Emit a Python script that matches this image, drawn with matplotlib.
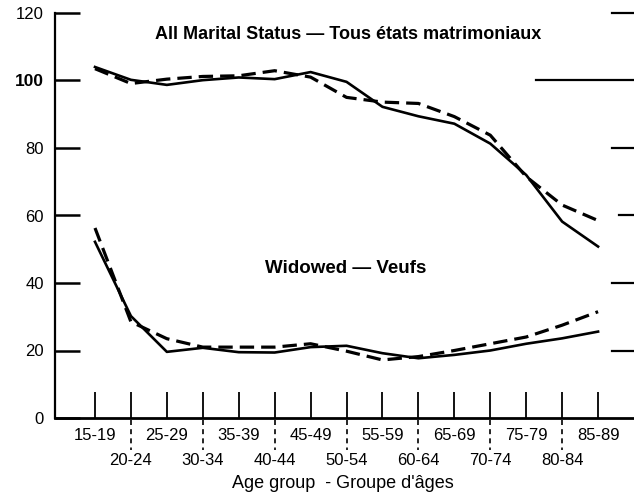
import numpy as np
import matplotlib
matplotlib.use('Agg')
import matplotlib.pyplot as plt

plt.rcParams['font.family'] = ['Liberation Sans', 'DejaVu Sans']

age_groups = ['15-19', '20-24', '25-29', '30-34', '35-39', '40-44', '45-49', '50-54',
              '55-59', '60-64', '65-69', '70-74', '75-79', '80-84', '85-89']

# All marital status (solid / dashed)
all_solid = [104, 100.2, 98.7, 100.1, 100.9, 100.4, 102.5, 99.6, 92.2, 89.4, 87.2, 81.3, 72.0, 58.2, 50.8]
all_dashed = [103.5, 99.1, 100.4, 101.2, 101.4, 102.9, 101.0, 95.0, 93.6, 93.2, 89.3, 83.8, 71.5, 63.1, 58.5]

# Widowed (solid / dashed)
wid_solid = [52.2, 30.2, 19.6, 20.8, 19.5, 19.4, 21.0, 21.4, 19.2, 17.7, 18.7, 20.0, 22.0, 23.6, 25.6]
wid_dashed = [56.3, 28.5, 23.5, 21.0, 21.0, 21.0, 22.0, 19.8, 17.2, 18.2, 20.0, 22.0, 24.0, 27.5, 31.5]

yticks = [0, 20, 40, 60, 80, 100, 120]

x = np.arange(len(age_groups))

fig = plt.figure(figsize=(6.34, 4.94), dpi=100)
ax = fig.add_axes([55 / 634, 76 / 494, 579 / 634, 405 / 494])

ax.plot(x, all_solid, color='black', lw=1.9, solid_joinstyle='round')
ax.plot(x, all_dashed, color='black', lw=2.3, dashes=(4.5, 2.2))
ax.plot(x, wid_solid, color='black', lw=1.9, solid_joinstyle='round')
ax.plot(x, wid_dashed, color='black', lw=2.3, dashes=(4.5, 2.2))

ax.set_xlim(-1.113, 15.0)
ax.set_ylim(0, 120)

for s in ['top', 'right']:
    ax.spines[s].set_visible(False)
ax.spines['left'].set_linewidth(1.6)
ax.spines['bottom'].set_linewidth(2.0)

# y axis ticks
ax.set_yticks(yticks)
ax.set_yticklabels([str(v) for v in yticks])
ax.tick_params(axis='y', direction='in', length=18, width=1.8, pad=8, labelsize=12)
for lab in ax.get_yticklabels():
    if lab.get_text() == '100':
        lab.set_fontweight('bold')
        lab.set_fontsize(12.5)

# right-side marks
for v in yticks[1:]:
    start = 0.83 if v == 100 else (0.974 if v == 60 else 0.962)
    ax.axhline(v, xmin=start, xmax=1.0, color='black', lw=1.6, clip_on=False)

# x ticks: two rows of labels
ax.set_xticks(x[::2])
ax.set_xticklabels(age_groups[::2])
ax.set_xticks(x[1::2], minor=True)
ax.set_xticklabels(age_groups[1::2], minor=True)
ax.tick_params(axis='x', which='both', direction='in', length=18.5, width=1.3, labelsize=12)
ax.tick_params(axis='x', which='major', pad=7)
ax.tick_params(axis='x', which='minor', pad=25)

# dashed separators below the axis
ax.vlines(x[1::2], -0.6, -9.6, colors='black', lw=1.2, linestyles=(0, (3, 2.5)), clip_on=False)

ax.text(0.506, 0.947, 'All Marital Status \u2014 Tous états matrimoniaux', transform=ax.transAxes,
        ha='center', va='center', fontsize=13, fontweight='bold')
ax.text(0.502, 0.368, 'Widowed \u2014 Veufs', transform=ax.transAxes,
        ha='center', va='center', fontsize=13.5, fontweight='bold')
ax.text(0.498, -0.162, "Age group  - Groupe d'âges", transform=ax.transAxes,
        ha='center', va='center', fontsize=13)

fig.savefig('out.png', dpi=100)
